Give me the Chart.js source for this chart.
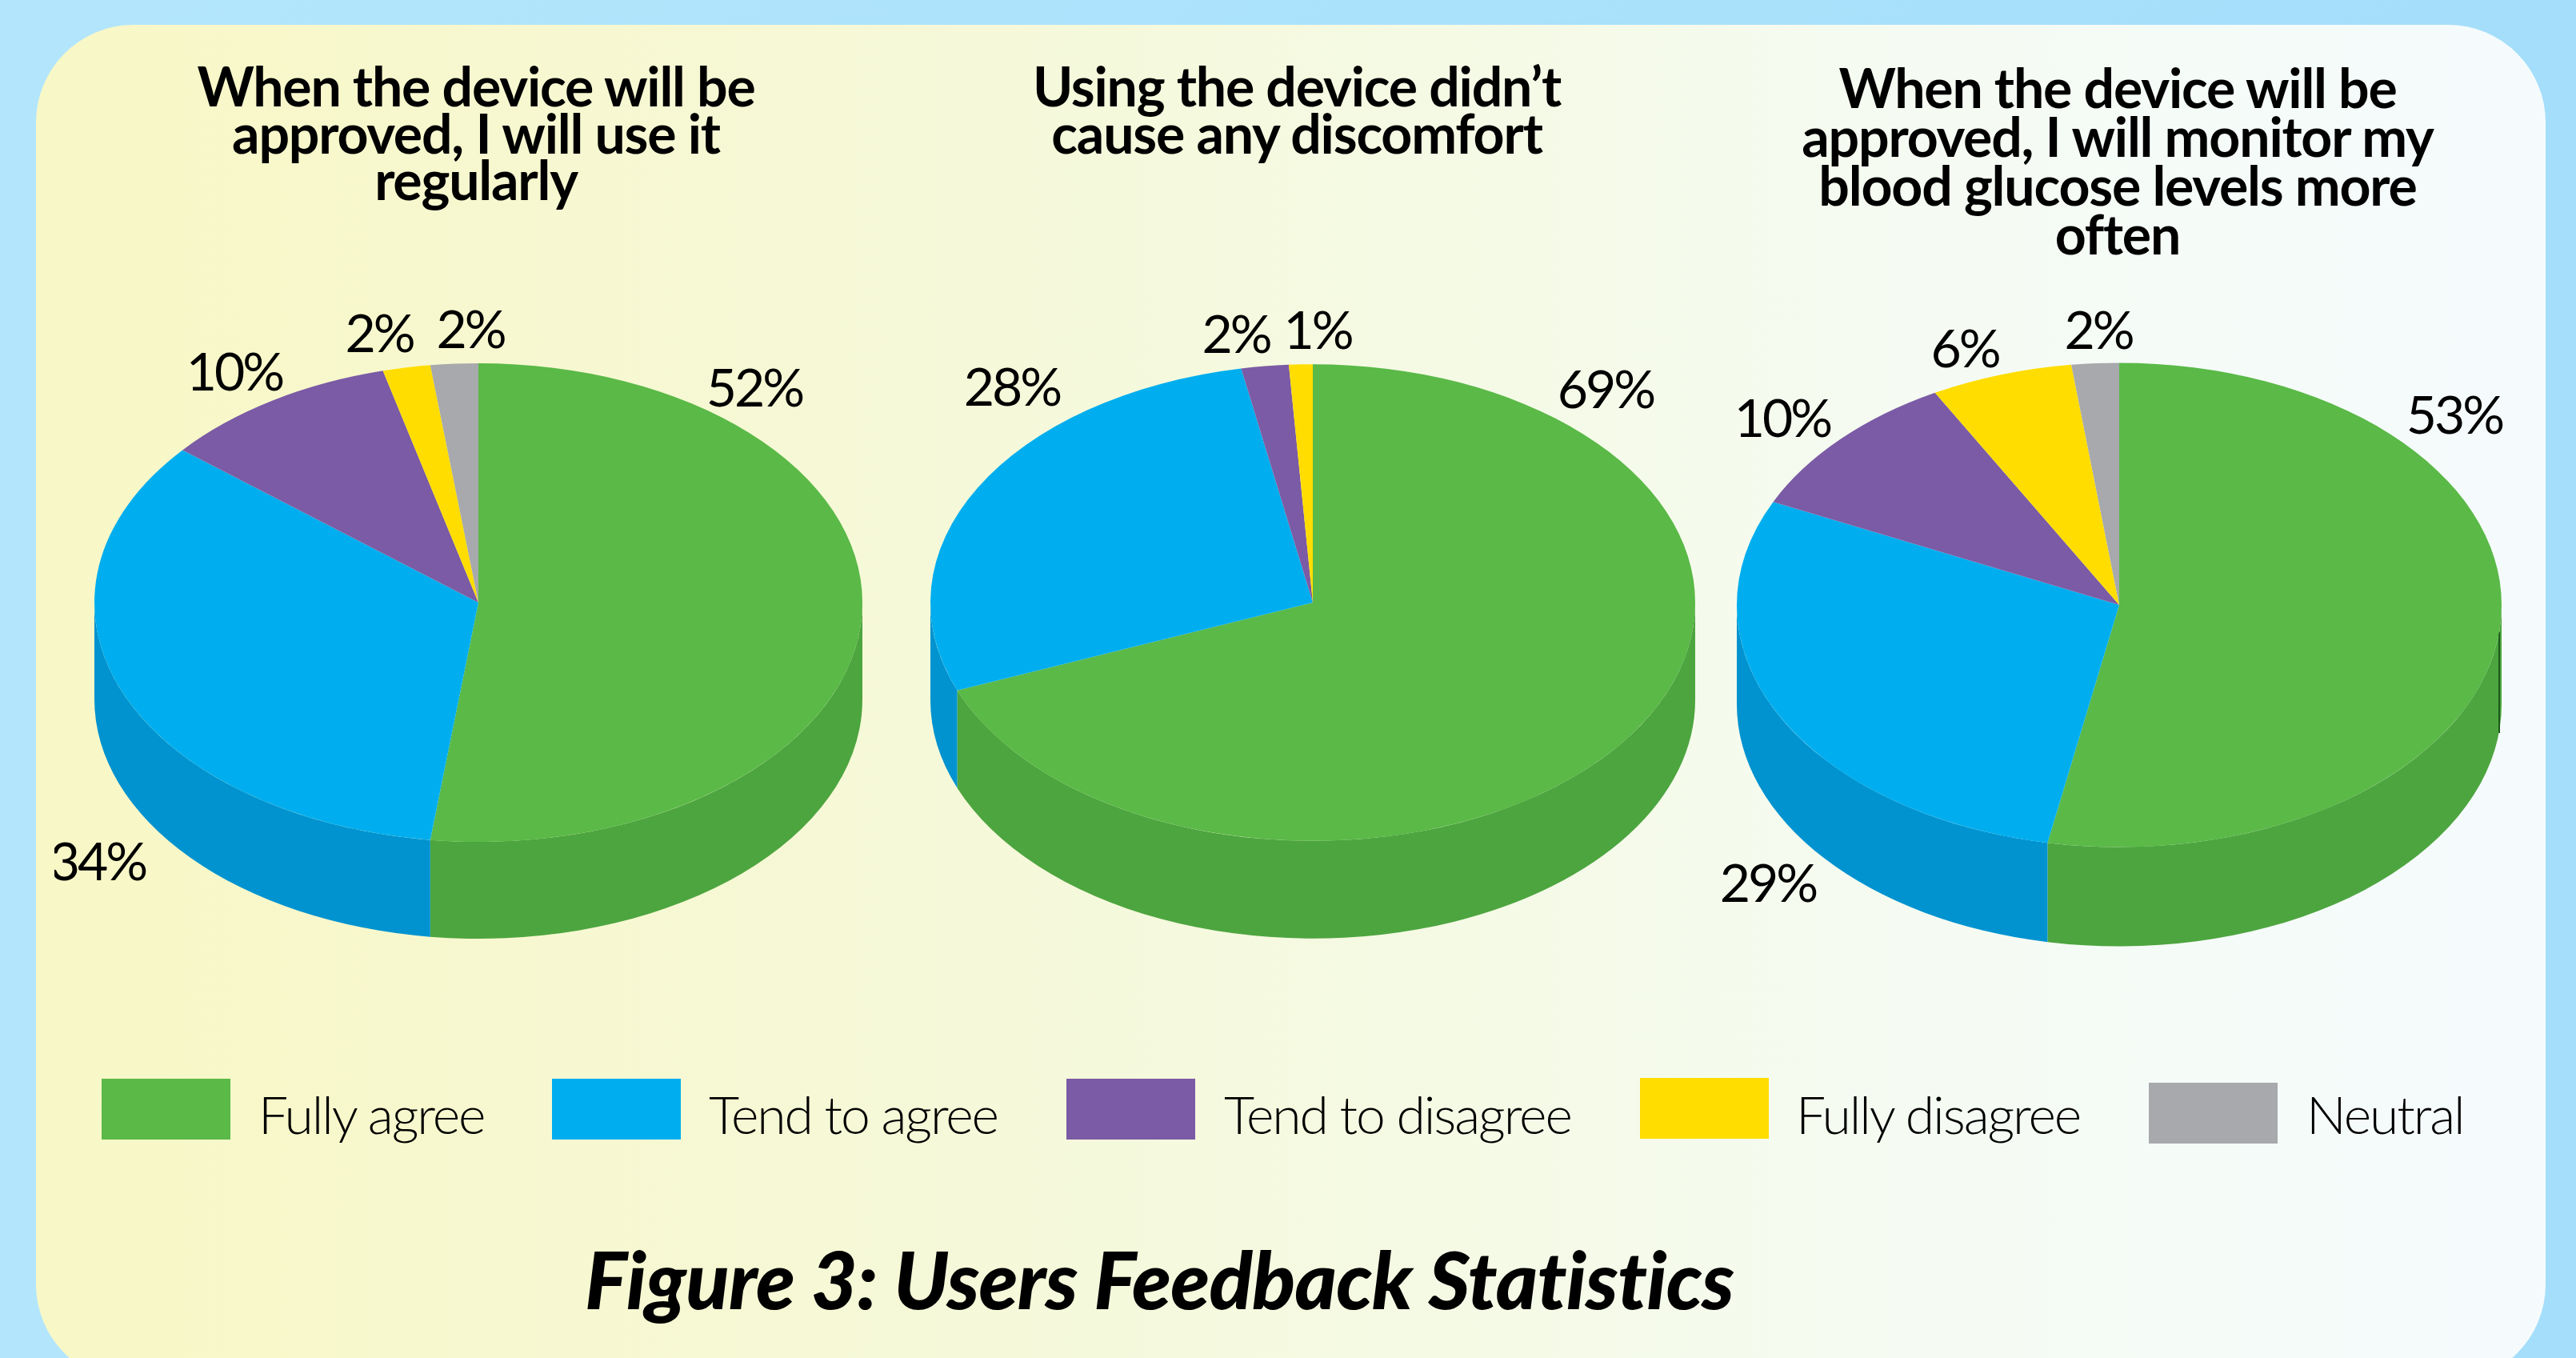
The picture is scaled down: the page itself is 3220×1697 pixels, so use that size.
<!DOCTYPE html>
<html>
<head>
<meta charset="utf-8">
<title>Figure 3: Users Feedback Statistics</title>
<script src="https://cdn.jsdelivr.net/npm/chart.js@4/dist/chart.umd.min.js"></script>
<style>
    html, body { margin: 0; padding: 0; width: 3220px; height: 1697px; overflow: hidden; }
    body { background: linear-gradient(to right, #b3e6fc, #a4defa); position: relative; font-family: Lato, sans-serif; color: #000; }
    #panel {
        position: absolute; left: 45px; top: 31px; width: 3137px; height: 1696px; border-radius: 122px;
        background: linear-gradient(to right, #f8f7c6 0%, #f5f9dd 45%, #f5fbf2 75%, #f5fbfd 100%);
    }
    canvas { position: absolute; }
    .pieTitle {
        position: absolute; width: 1000px; text-align: center; white-space: pre;
        font-weight: 700; font-size: 68px; letter-spacing: -1.2px;
    }
    .swatch { position: absolute; width: 161px; height: 76px; }
    .legendText { position: absolute; top: 1348px; font-size: 66px; line-height: 88px; font-weight: 300; letter-spacing: -2.1px; white-space: pre; }
    #caption {
        position: absolute; left: 731px; top: 1537px; font-size: 100px; line-height: 120px;
        font-weight: 900; font-style: italic; white-space: pre; letter-spacing: -0.8px;
    }
</style>
</head>
<body>
<div id="panel"></div>
<canvas id="pie1" width="1060" height="1060"></canvas>
<canvas id="pie2" width="1060" height="1060"></canvas>
<canvas id="pie3" width="1060" height="1060"></canvas>
<div id="titles"></div>
<div id="legend"></div>
<div id="caption">Figure 3: Users Feedback Statistics</div>

<script>
const categories = ['Fully agree', 'Tend to agree', 'Tend to disagree', 'Fully disagree', 'Neutral'];
const useRegularly = [52, 34, 10, 2, 2];
const noDiscomfort = [69, 28, 2, 1, 0];
const monitorMore = [53, 29, 10, 6, 2];

const topColors = ['#5ab947', '#00aeef', '#7b5ba5', '#ffdd00', '#a7a9ac'];
const wallColors = ['#4da53f', '#0093d0', '#68498f', '#d9bc00', '#8d8f92'];

const chartTitles = [
    'When the device will be\napproved, I will use it\nregularly',
    'Using the device didn\u2019t\ncause any discomfort',
    'When the device will be\napproved, I will monitor my\nblood glucose levels more\noften'
];

// page layout of each pie: centre, radius, squash and thickness of the disc
const pieLayout = [
    { id: 'pie1', values: useRegularly, cx: 598, cy: 753, r: 480, squash: 0.623, depth: 121 },
    { id: 'pie2', values: noDiscomfort, cx: 1641, cy: 753, r: 478, squash: 0.623, depth: 122 },
    { id: 'pie3', values: monitorMore, cx: 2649, cy: 755.5, r: 478, squash: 0.633, depth: 124, edgeLine: true }
];

// percent label anchors on the page, [centre x, baseline y] by slice
const labelSpots = [
    [[943, 508], [122, 1100], [293, 488], [474, 440], [588, 435]],
    [[2007, 510], [1265, 507], [1545, 441], [1647, 436], null],
    [[3068, 541], [2210, 1126], [2228, 545], [2456, 458], [2623, 435]]
];

const titleSpots = [[595, 78], [1621, 78], [2647, 78]];
const titleLineHeights = [58.5, 58.5, 61];

const swatchSpots = [[127, 1348], [690, 1348], [1333, 1348], [2050, 1347], [2686, 1353]];
const legendTextX = [323, 886, 1530, 2245, 2883];

// draws the side wall under the disc and flattens the arcs into an ellipse
const discPlugin = {
    id: 'disc',
    beforeDatasetsDraw(chart, args, opts) {
        const ctx = chart.ctx;
        const arcs = chart.getDatasetMeta(0).data;
        arcs.forEach((arc, i) => {
            const s = Math.max(arc.startAngle, 0);
            const e = Math.min(arc.endAngle, Math.PI);
            if (e <= s) return;
            const rx = arc.outerRadius;
            const ry = rx * opts.squash;
            ctx.beginPath();
            ctx.ellipse(arc.x, arc.y, rx, ry, 0, s, e);
            ctx.ellipse(arc.x, arc.y + opts.depth, rx, ry, 0, e, s, true);
            ctx.closePath();
            ctx.fillStyle = wallColors[i];
            ctx.fill();
        });
        if (opts.edgeLine) {
            const arc = arcs[0];
            ctx.fillStyle = '#1d5a1a';
            ctx.fillRect(arc.x + arc.outerRadius - 4, arc.y + 34, 2, opts.depth + 2);
        }
        const c = arcs[0];
        ctx.save();
        ctx.translate(c.x, c.y);
        ctx.scale(1, opts.squash);
        ctx.translate(-c.x, -c.y);
    },
    afterDatasetsDraw(chart, args, opts) {
        const ctx = chart.ctx;
        ctx.restore();
        ctx.save();
        ctx.font = '400 66px Lato';
        ctx.letterSpacing = '-3px';
        ctx.fillStyle = '#000';
        ctx.textAlign = 'center';
        ctx.textBaseline = 'alphabetic';
        chart.data.datasets[0].data.forEach((v, i) => {
            const spot = opts.spots[i];
            if (!v || !spot) return;
            ctx.fillText(v + '%', spot[0] - opts.left, spot[1] - opts.top);
        });
        ctx.restore();
    }
};

pieLayout.forEach((p, n) => {
    const el = document.getElementById(p.id);
    const left = p.cx - 530;
    const top = p.cy - 530;
    el.style.left = left + 'px';
    el.style.top = top + 'px';

    new Chart(el, {
        type: 'pie',
        data: {
            labels: categories,
            datasets: [{
                data: p.values,
                backgroundColor: topColors,
                borderWidth: 0,
                radius: p.r
            }]
        },
        options: {
            responsive: false,
            animation: false,
            events: [],
            plugins: {
                legend: { display: false },
                tooltip: { enabled: false },
                disc: { squash: p.squash, depth: p.depth, edgeLine: !!p.edgeLine, spots: labelSpots[n], left: left, top: top }
            }
        },
        plugins: [discPlugin]
    });
});

// headings over each pie
chartTitles.forEach((text, i) => {
    const d = document.createElement('div');
    d.className = 'pieTitle';
    d.textContent = text;
    d.style.left = (titleSpots[i][0] - 500) + 'px';
    d.style.top = titleSpots[i][1] + 'px';
    d.style.lineHeight = titleLineHeights[i] + 'px';
    document.getElementById('titles').appendChild(d);
});

// legend row
categories.forEach((name, i) => {
    const box = document.createElement('div');
    box.className = 'swatch';
    box.style.left = swatchSpots[i][0] + 'px';
    box.style.top = swatchSpots[i][1] + 'px';
    box.style.background = topColors[i];
    const txt = document.createElement('div');
    txt.className = 'legendText';
    txt.textContent = name;
    txt.style.left = legendTextX[i] + 'px';
    document.getElementById('legend').append(box, txt);
});
</script>
</body>
</html>
